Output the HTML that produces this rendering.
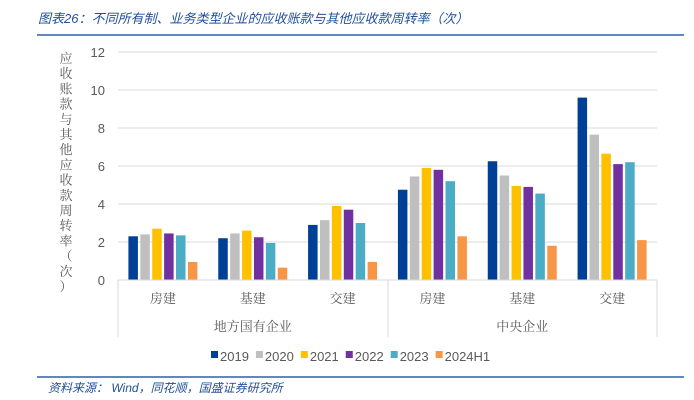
<!DOCTYPE html>
<html><head><meta charset="utf-8"><style>
body{margin:0;width:694px;height:400px;background:#fff;overflow:hidden;font-family:"Liberation Sans","Noto Sans CJK SC",sans-serif}
svg{position:absolute;left:0;top:0}
</style></head><body>
<svg id="c" width="694" height="400">
<text x="38" y="23" font-size="13" font-style="italic" fill="#1f4e9a" font-family="Liberation Sans, Noto Sans CJK SC, sans-serif">图表26：不同所有制、业务类型企业的应收账款与其他应收款周转率（次）</text>
<line x1="37" y1="35" x2="684" y2="35" stroke="#2e5fa8" stroke-width="1.5"/>
<line x1="37" y1="377" x2="684" y2="377" stroke="#2e5fa8" stroke-width="1.5"/>
<text x="48" y="392" font-size="12" font-style="italic" fill="#1f4e9a">资料来源：  Wind，同花顺，国盛证券研究所</text>
<g id="plot"></g>
</svg>
<script>
const groups=["地方国有企业","中央企业"];
const categories=["房建","基建","交建","房建","基建","交建"];
const seriesNames=["2019","2020","2021","2022","2023","2024H1"];
const s2019=[2.3,2.2,2.9,4.75,6.25,9.6];
const s2020=[2.4,2.45,3.15,5.45,5.5,7.65];
const s2021=[2.7,2.6,3.9,5.9,4.95,6.65];
const s2022=[2.45,2.25,3.7,5.8,4.9,6.1];
const s2023=[2.35,1.95,3.0,5.2,4.55,6.2];
const s2024=[0.95,0.65,0.95,2.3,1.8,2.1];
const yTicks=[0,2,4,6,8,10,12];
const colors=["#003f96","#bfbfbf","#ffc000","#7030a0","#4bacc6","#f79646"];
const series=[s2019,s2020,s2021,s2022,s2023,s2024];
const NS="http://www.w3.org/2000/svg";
const g=document.getElementById('plot');
const X0=118,X1=657,Y0=280,PX=19;
const y=v=>Y0-v*PX;
const gw=(X1-X0)/categories.length;
const serif='"Liberation Serif","Noto Serif CJK SC",serif';
function mk(t,a){const e=document.createElementNS(NS,t);for(const k in a)e.setAttribute(k,a[k]);g.appendChild(e);return e;}
yTicks.forEach(t=>{
 const l=mk('line',{x1:X0,x2:X1,y1:y(t),y2:y(t),stroke:'#d9d9d9','stroke-width':1});
 
 
 const tx=mk('text',{x:105,y:y(t)+5,'font-size':13,fill:'#595959','text-anchor':'end'});
 tx.textContent=t;
 
 
});
const ylab="应收账款与其他应收款周转率（次）";
[...ylab].forEach((ch,i)=>{
 const t=mk('text',{x:66,y:63+i*15.2,'font-size':13,fill:'#595959','text-anchor':'middle','font-family':serif});
 t.textContent=ch;
 
 
});
const bw=9.5,step=11.9;
series.forEach((s,si)=>{
 s.forEach((v,ci)=>{
  const cx=X0+gw*(ci+0.5);
  const x=cx-(5*step+bw)/2+si*step;
  const r=mk('rect',{x:x,y:y(v),width:bw,height:v*PX,fill:colors[si]});
  
  
 });
});
[[X0,Y0,X0,337],[388,Y0,388,337],[X1,Y0,X1,337],[X0,Y0,X1,Y0]].forEach(p=>{
 const l=mk('line',{x1:p[0],y1:p[1],x2:p[2],y2:p[3],stroke:'#d9d9d9','stroke-width':1});
 
 
});
categories.forEach((c,i)=>{
 const t=mk('text',{x:X0+gw*(i+0.5),y:303,'font-size':13,fill:'#595959','text-anchor':'middle','font-family':serif});
 t.textContent=c;
 
 
});
groups.forEach((c,i)=>{
 const t=mk('text',{x:X0+gw*(3*i+1.5),y:331,'font-size':13,fill:'#595959','text-anchor':'middle','font-family':serif});
 t.textContent=c;
 
 
});
let lx=211;
seriesNames.forEach((n,i)=>{
 const r=mk('rect',{x:lx,y:351,width:7,height:7,fill:colors[i]});
 
 
 const t=mk('text',{x:lx+9,y:361,'font-size':13,fill:'#595959'});
 t.textContent=n;
 
 
 lx+=9+t.getComputedTextLength()+7;
});
</script>
</body></html>
